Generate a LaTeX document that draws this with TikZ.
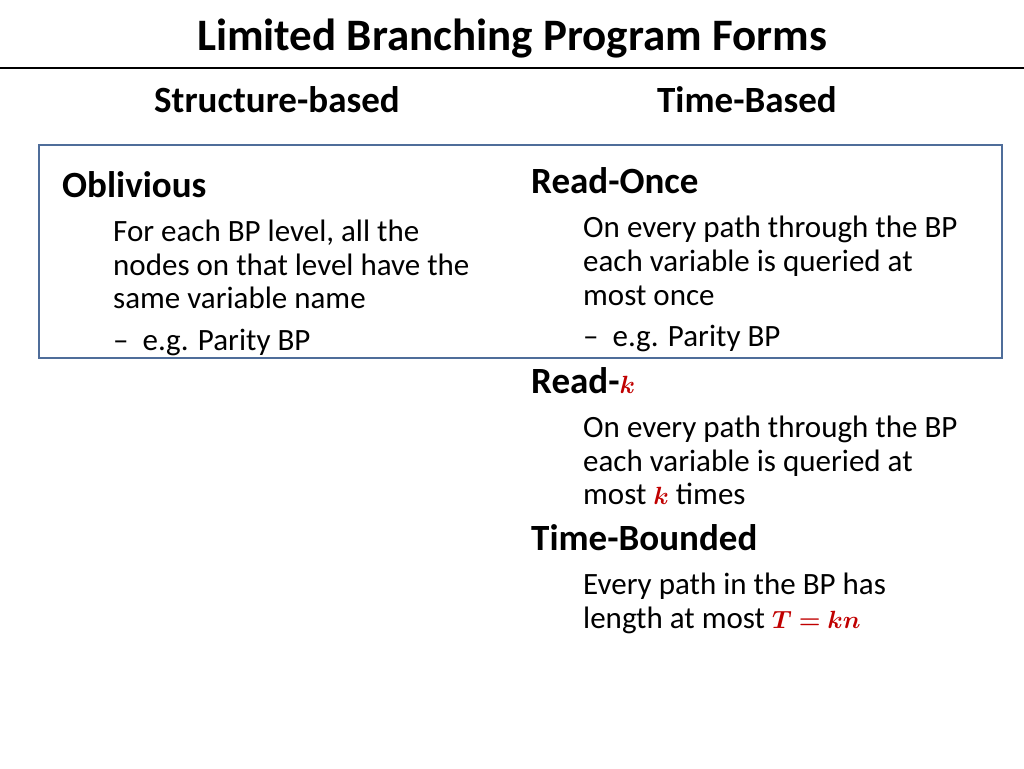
\documentclass[tikz,border=0pt]{standalone}
\usepackage{amsmath,bm}
\usepackage{fontspec}
\setmainfont{Carlito}
\definecolor{boxblue}{RGB}{79,109,154}
\definecolor{kred}{RGB}{192,0,0}
\newcommand{\rk}{\textcolor{kred}{$\bm{k}$}}
\begin{document}
\begin{tikzpicture}[x=1pt,y=-1pt,
    title/.style={anchor=base,font=\fontsize{45}{50}\selectfont\bfseries},
    colhead/.style={anchor=base,font=\fontsize{37}{40}\selectfont\bfseries},
    form/.style={anchor=base west,font=\fontsize{37}{40}\selectfont\bfseries,inner sep=0},
    body/.style={anchor=base west,font=\fontsize{31}{34}\selectfont,inner sep=0}]
    \useasboundingbox (0,0) rectangle (1024,768);
    \node[title] (ttl) at (512,50) {Limited Branching Program Forms};
    \draw[line width=2.5pt] (0,68) -- (1024,68);
    \node[colhead] (sb) at (277,112) {Structure-based};
    \node[colhead] (tb) at (747,112) {Time-Based};
    \draw[boxblue, line width=2.5pt] (39,145) rectangle (1002,358);
    % structure-based
    \node[form] (obl) at (62,197) {Oblivious};
    \node[body] (obl1) at (113,241) {For each BP level, all the};
    \node[body] (obl2) at (113,275) {nodes on that level have the};
    \node[body] (obl3) at (113,308) {same variable name};
    \node[body] (oblex) at (113,350) {--\ \ e.g. Parity BP};
    % time-based
    \node[form] (ro) at (531,193) {Read-Once};
    \node[body] (ro1) at (583,237) {On every path through the BP};
    \node[body] (ro2) at (583,271) {each variable is queried at};
    \node[body] (ro3) at (583,305) {most once};
    \node[body] (roex) at (583,346) {--\ \ e.g. Parity BP};
    \node[form] (rk) at (531,393) {Read-\rk};
    \node[body] (rk1) at (583,437) {On every path through the BP};
    \node[body] (rk2) at (583,471) {each variable is queried at};
    \node[body] (rk3) at (583,504) {most \rk\ times};
    \node[form] (tbd) at (531,550) {Time-Bounded};
    \node[body] (tbd1) at (583,594) {Every path in the BP has};
    \node[body] (tbd2) at (583,628) {length at most \textcolor{kred}{$\bm{T=kn}$}};
\end{tikzpicture}
\end{document}
